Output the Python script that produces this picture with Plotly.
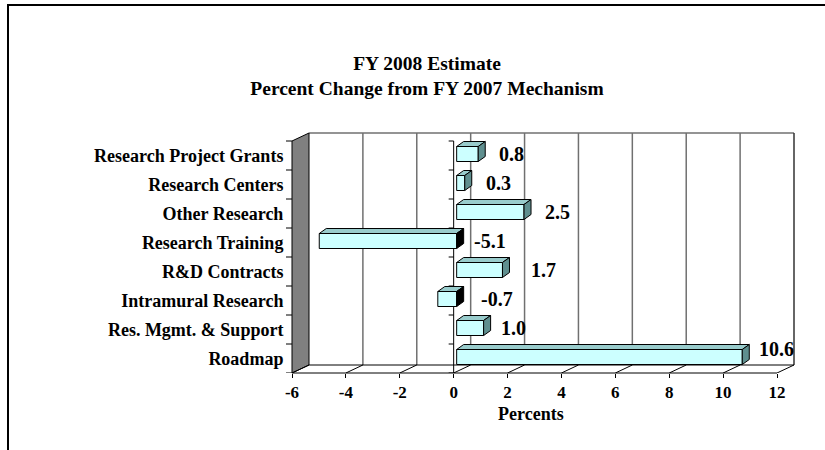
import plotly.graph_objects as go

# ---------------- data ----------------
categories = [
    "Research Project Grants",
    "Research Centers",
    "Other Research",
    "Research Training",
    "R&D Contracts",
    "Intramural Research",
    "Res. Mgmt. & Support",
    "Roadmap",
]
values = [0.8, 0.3, 2.5, -5.1, 1.7, -0.7, 1.0, 10.6]
x_ticks = [-6, -4, -2, 0, 2, 4, 6, 8, 10, 12]
x_tick_labels = ["-6", "-4", "-2", "0", "2", "4", "6", "8", "10", "12"]
title_lines = ["FY 2008 Estimate", "Percent Change from FY 2007 Mechanism"]
x_title = "Percents"

# ---------------- geometry / style (pixels) ----------------
W, H = 825, 450
L, R, T, B = 292, 797, 128, 373        # plot domain in px
FRONT_RIGHT = 777                       # px of x = 12 on the front plane
BAND = 29                               # px per category
WALL_DX, WALL_DY = 17, 8                # depth offset of the back wall
BAR_FX, BAR_FY = 3, 1.5                 # bar front-face depth offset
BAR_DX, BAR_DY = 7, 5                   # bar thickness (depth) offset
BAR_HALF = 7.5                          # half height of bar face
label_gap_px = [12, 12, 12, 8, 20, 15, 8, 8]
label_rise_px = [0, 0, 0, 0, 0, 0, 0, 8]

FONT = "Liberation Serif, Times New Roman, serif"
FRONT_C = "#CCFFFF"
TOP_C = "#99CCCC"
SIDE_POS_C = "#5F8F8F"
SIDE_NEG_C = "#000000"

n = len(categories)
xmin, xmax = x_ticks[0], x_ticks[-1]
kx = (FRONT_RIGHT - L) / (xmax - xmin)
ky = BAND
front_top_px = B - n * BAND

def ux(p):
    return p / kx

def uy(p):
    return p / ky

xrange = [xmin, xmin + (R - L) / kx]
y_bottom = n - 0.5
y_top = -0.5 - (front_top_px - T) / ky
yrange = [y_bottom, y_top]

def paper_x(p):
    return (p - L) / (R - L)

def paper_y(p):
    return (B - p) / (B - T)

wdx, wdy = ux(WALL_DX), uy(WALL_DY)
top_front, bot_front = -0.5, n - 0.5

shapes = []
# back wall
shapes.append(dict(type="rect", xref="x", yref="y", layer="below",
                   x0=xmin + wdx, x1=xmax + wdx, y0=top_front - wdy, y1=bot_front - wdy,
                   fillcolor="white", line=dict(width=0)))
# gridlines on back wall
for v in x_ticks[1:-1]:
    shapes.append(dict(type="line", xref="x", yref="y", layer="below",
                       x0=v + wdx, x1=v + wdx, y0=top_front - wdy, y1=bot_front - wdy,
                       line=dict(color="#707070", width=1.5)))
# top edge and right edge of back wall
shapes.append(dict(type="line", xref="x", yref="y", layer="below",
                   x0=xmin + wdx, x1=xmax + wdx, y0=top_front - wdy, y1=top_front - wdy,
                   line=dict(color="#707070", width=1.5)))
shapes.append(dict(type="line", xref="x", yref="y", layer="below",
                   x0=xmax + wdx, x1=xmax + wdx, y0=top_front - wdy, y1=bot_front - wdy,
                   line=dict(color="#333333", width=1.5)))
# side wall
shapes.append(dict(type="path", xref="x", yref="y", layer="below",
                   path=(f"M {xmin},{top_front} L {xmin + wdx},{top_front - wdy} "
                         f"L {xmin + wdx},{bot_front - wdy} L {xmin},{bot_front} Z"),
                   fillcolor="#808080", line=dict(color="black", width=1)))
shapes.append(dict(type="line", xref="paper", yref="y", layer="below",
                   x0=0, x1=0, y0=top_front, y1=bot_front,
                   line=dict(color="black", width=1)))
# floor
shapes.append(dict(type="line", xref="x", yref="y", layer="below",
                   x0=xmin + wdx, x1=xmax + wdx, y0=bot_front - wdy, y1=bot_front - wdy,
                   line=dict(color="black", width=1)))
for v in x_ticks:
    shapes.append(dict(type="line", xref="x", yref="y", layer="below",
                       x0=v, x1=v + wdx, y0=bot_front, y1=bot_front - wdy,
                       line=dict(color="black", width=1)))
shapes.append(dict(type="line", xref="x", yref="paper", layer="below",
                   x0=xmin, x1=xmax, y0=0, y1=0,
                   line=dict(color="black", width=1)))
# category ticks at left wall edge and at zero axis
for j in range(n + 1):
    yb = -0.5 + j
    shapes.append(dict(type="line", xref="paper", yref="y", layer="below",
                       x0=paper_x(L - 6), x1=0, y0=yb, y1=yb,
                       line=dict(color="black", width=1)))
    shapes.append(dict(type="line", xref="x", yref="y", layer="below",
                       x0=-ux(5), x1=0, y0=yb, y1=yb,
                       line=dict(color="black", width=1)))
shapes.append(dict(type="line", xref="x", yref="y", layer="below",
                   x0=0, x1=0, y0=top_front, y1=bot_front,
                   line=dict(color="black", width=1)))
# outer frame
shapes.append(dict(type="path", xref="paper", yref="paper",
                   path=(f"M {paper_x(8)},{paper_y(460)} L {paper_x(8)},{paper_y(5)} "
                         f"L {paper_x(840)},{paper_y(5)}"),
                   line=dict(color="black", width=2)))

fig = go.Figure()

fx, fy = ux(BAR_FX), uy(BAR_FY)
bx, by = ux(BAR_DX), uy(BAR_DY)
hh = uy(BAR_HALF)
ypos = [i - fy for i in range(n)]

fig.add_trace(go.Bar(
    y=ypos, x=values, base=[fx] * n, orientation="h", width=2 * hh,
    marker=dict(color=FRONT_C, line=dict(color="black", width=1)),
    hoverinfo="skip", showlegend=False))

annotations = []
for i, v in enumerate(values):
    x0 = min(0, v) + fx
    x1 = max(0, v) + fx
    yt = ypos[i] - hh
    yb = ypos[i] + hh
    # top face
    fig.add_trace(go.Scatter(
        x=[x0, x1, x1 + bx, x0 + bx, x0],
        y=[yt, yt, yt - by, yt - by, yt],
        mode="lines", fill="toself", fillcolor=TOP_C,
        line=dict(color="black", width=1), hoverinfo="skip", showlegend=False))
    # side face
    fig.add_trace(go.Scatter(
        x=[x1, x1, x1 + bx, x1 + bx, x1],
        y=[yt, yb, yb - by, yt - by, yt],
        mode="lines", fill="toself",
        fillcolor=SIDE_POS_C if v >= 0 else SIDE_NEG_C,
        line=dict(color="black", width=1), hoverinfo="skip", showlegend=False))
    annotations.append(dict(
        x=x1 + bx, y=ypos[i], xref="x", yref="y", text=f"{v:.1f}",
        showarrow=False, xanchor="left", yanchor="middle",
        xshift=label_gap_px[i], yshift=label_rise_px[i],
        font=dict(family=FONT, size=20, color="black", weight="bold")))

annotations.append(dict(
    x=(xmin + xmax) / 2, y=paper_y(414), xref="x", yref="paper", text=x_title,
    showarrow=False, xanchor="center", yanchor="middle", xshift=-4,
    font=dict(family=FONT, size=18, color="black", weight="bold")))

fig.update_layout(
    width=W, height=H,
    margin=dict(l=L, r=W - R, t=T, b=H - B, autoexpand=False),
    paper_bgcolor="white", plot_bgcolor="rgba(0,0,0,0)",
    title=dict(text="<br>".join(title_lines), x=427 / W, xanchor="center",
               xref="container", yref="container", y=1 - 70 / H, yanchor="middle",
               font=dict(family=FONT, size=19.5, color="black", weight="bold")),
    xaxis=dict(range=xrange, tickvals=x_ticks, ticktext=x_tick_labels,
               ticks="outside", ticklen=4,
               tickcolor="black", tickwidth=1, showgrid=False, zeroline=False,
               showline=False, fixedrange=True,
               tickfont=dict(family=FONT, size=17, color="black", weight="bold")),
    yaxis=dict(range=yrange, tickvals=list(range(n)), ticktext=categories,
               ticks="outside", ticklen=4, tickcolor="rgba(0,0,0,0)",
               showgrid=False, zeroline=False, showline=False, fixedrange=True,
               tickfont=dict(family=FONT, size=18, color="black", weight="bold")),
    shapes=shapes, annotations=annotations, hovermode=False, showlegend=False,
)

fig.write_html(
    "out.html",
    config={"displayModeBar": False},
    post_script="document.body.style.margin='0';document.body.style.overflow='hidden';",
)
